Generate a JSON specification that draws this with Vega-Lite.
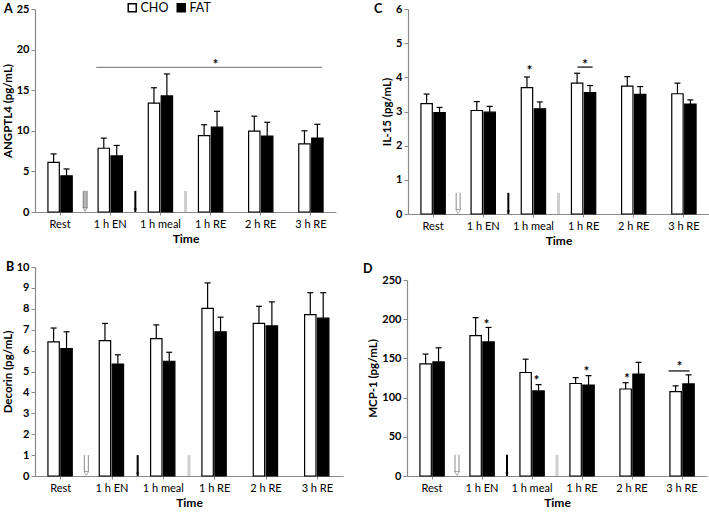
{
  "$schema": "https://vega.github.io/schema/vega-lite/v6.json",
  "padding": {"left": 2, "top": 1, "right": 0, "bottom": 0},
  "datasets": {
    "bars": [
      {"panel": "A", "time": "Rest", "group": "CHO", "mean": 6.1, "upper": 7.15},
      {"panel": "A", "time": "Rest", "group": "FAT", "mean": 4.45, "upper": 5.3},
      {"panel": "A", "time": "1 h EN", "group": "CHO", "mean": 7.85, "upper": 9.1},
      {"panel": "A", "time": "1 h EN", "group": "FAT", "mean": 6.9, "upper": 8.2},
      {"panel": "A", "time": "1 h meal", "group": "CHO", "mean": 13.4, "upper": 15.3},
      {"panel": "A", "time": "1 h meal", "group": "FAT", "mean": 14.3, "upper": 17.0},
      {"panel": "A", "time": "1 h RE", "group": "CHO", "mean": 9.4, "upper": 10.75},
      {"panel": "A", "time": "1 h RE", "group": "FAT", "mean": 10.45, "upper": 12.4},
      {"panel": "A", "time": "2 h RE", "group": "CHO", "mean": 9.95, "upper": 11.8},
      {"panel": "A", "time": "2 h RE", "group": "FAT", "mean": 9.35, "upper": 11.05},
      {"panel": "A", "time": "3 h RE", "group": "CHO", "mean": 8.4, "upper": 10.0},
      {"panel": "A", "time": "3 h RE", "group": "FAT", "mean": 9.1, "upper": 10.8},
      {"panel": "B", "time": "Rest", "group": "CHO", "mean": 6.42, "upper": 7.08},
      {"panel": "B", "time": "Rest", "group": "FAT", "mean": 6.1, "upper": 6.9},
      {"panel": "B", "time": "1 h EN", "group": "CHO", "mean": 6.48, "upper": 7.3},
      {"panel": "B", "time": "1 h EN", "group": "FAT", "mean": 5.36, "upper": 5.8},
      {"panel": "B", "time": "1 h meal", "group": "CHO", "mean": 6.57, "upper": 7.23},
      {"panel": "B", "time": "1 h meal", "group": "FAT", "mean": 5.49, "upper": 5.92},
      {"panel": "B", "time": "1 h RE", "group": "CHO", "mean": 8.02, "upper": 9.24},
      {"panel": "B", "time": "1 h RE", "group": "FAT", "mean": 6.9, "upper": 7.6},
      {"panel": "B", "time": "2 h RE", "group": "CHO", "mean": 7.3, "upper": 8.12},
      {"panel": "B", "time": "2 h RE", "group": "FAT", "mean": 7.18, "upper": 8.33},
      {"panel": "B", "time": "3 h RE", "group": "CHO", "mean": 7.72, "upper": 8.77},
      {"panel": "B", "time": "3 h RE", "group": "FAT", "mean": 7.55, "upper": 8.77},
      {"panel": "C", "time": "Rest", "group": "CHO", "mean": 3.23, "upper": 3.51},
      {"panel": "C", "time": "Rest", "group": "FAT", "mean": 2.97, "upper": 3.12},
      {"panel": "C", "time": "1 h EN", "group": "CHO", "mean": 3.03, "upper": 3.29},
      {"panel": "C", "time": "1 h EN", "group": "FAT", "mean": 2.98, "upper": 3.15},
      {"panel": "C", "time": "1 h meal", "group": "CHO", "mean": 3.7, "upper": 4.01},
      {"panel": "C", "time": "1 h meal", "group": "FAT", "mean": 3.08, "upper": 3.28},
      {"panel": "C", "time": "1 h RE", "group": "CHO", "mean": 3.83, "upper": 4.12},
      {"panel": "C", "time": "1 h RE", "group": "FAT", "mean": 3.55, "upper": 3.76},
      {"panel": "C", "time": "2 h RE", "group": "CHO", "mean": 3.74, "upper": 4.02},
      {"panel": "C", "time": "2 h RE", "group": "FAT", "mean": 3.5, "upper": 3.73},
      {"panel": "C", "time": "3 h RE", "group": "CHO", "mean": 3.52, "upper": 3.83},
      {"panel": "C", "time": "3 h RE", "group": "FAT", "mean": 3.22, "upper": 3.34},
      {"panel": "D", "time": "Rest", "group": "CHO", "mean": 143, "upper": 155.5},
      {"panel": "D", "time": "Rest", "group": "FAT", "mean": 145.5, "upper": 163.5},
      {"panel": "D", "time": "1 h EN", "group": "CHO", "mean": 179, "upper": 202},
      {"panel": "D", "time": "1 h EN", "group": "FAT", "mean": 171, "upper": 189.5},
      {"panel": "D", "time": "1 h meal", "group": "CHO", "mean": 132, "upper": 149},
      {"panel": "D", "time": "1 h meal", "group": "FAT", "mean": 108.5, "upper": 116.5},
      {"panel": "D", "time": "1 h RE", "group": "CHO", "mean": 118, "upper": 125.5},
      {"panel": "D", "time": "1 h RE", "group": "FAT", "mean": 116, "upper": 128},
      {"panel": "D", "time": "2 h RE", "group": "CHO", "mean": 111, "upper": 119},
      {"panel": "D", "time": "2 h RE", "group": "FAT", "mean": 130, "upper": 145},
      {"panel": "D", "time": "3 h RE", "group": "CHO", "mean": 107.5, "upper": 115},
      {"panel": "D", "time": "3 h RE", "group": "FAT", "mean": 117.5, "upper": 129}
    ],
    "arrows": [
      {"panel": "A", "at": "1 h EN", "kind": "hollow", "top": 2.6},
      {"panel": "A", "at": "1 h meal", "kind": "black", "top": 2.6},
      {"panel": "A", "at": "1 h RE", "kind": "gray", "top": 2.6},
      {"panel": "B", "at": "1 h EN", "kind": "hollow", "top": 1.0},
      {"panel": "B", "at": "1 h meal", "kind": "black", "top": 1.0},
      {"panel": "B", "at": "1 h RE", "kind": "gray", "top": 1.0},
      {"panel": "C", "at": "1 h EN", "kind": "hollow", "top": 0.62},
      {"panel": "C", "at": "1 h meal", "kind": "black", "top": 0.62},
      {"panel": "C", "at": "1 h RE", "kind": "gray", "top": 0.62},
      {"panel": "D", "at": "1 h EN", "kind": "hollow", "top": 27},
      {"panel": "D", "at": "1 h meal", "kind": "black", "top": 27},
      {"panel": "D", "at": "1 h RE", "kind": "gray", "top": 27}
    ],
    "stars": [
      {"panel": "A", "time": "1 h RE", "group": "FAT", "y": 18.3},
      {"panel": "C", "time": "1 h meal", "group": "CHO", "y": 4.25},
      {"panel": "C", "time": "1 h RE", "group": "both", "y": 4.43},
      {"panel": "D", "time": "1 h EN", "group": "FAT", "y": 195},
      {"panel": "D", "time": "1 h meal", "group": "FAT", "y": 124},
      {"panel": "D", "time": "1 h RE", "group": "FAT", "y": 135},
      {"panel": "D", "time": "2 h RE", "group": "CHO", "y": 126},
      {"panel": "D", "time": "3 h RE", "group": "both", "y": 141}
    ],
    "lines": [
      {"panel": "A", "from": "1 h EN", "to": "3 h RE", "y": 17.8},
      {"panel": "C", "from": "1 h RE", "to": "1 h RE", "y": 4.3},
      {"panel": "D", "from": "3 h RE", "to": "3 h RE", "y": 134}
    ],
    "letters": [
      {"panel": "A", "letter": "A", "start": "Rest", "top": 25},
      {"panel": "B", "letter": "B", "start": "Rest", "top": 10},
      {"panel": "C", "letter": "C", "start": "Rest", "top": 6},
      {"panel": "D", "letter": "D", "start": "Rest", "top": 250}
    ]
  },
  "config": {
    "font": "Lato",
    "view": {"stroke": null},
    "axis": {"grid": false, "domainColor": "#8a8a8a", "tickColor": "#8a8a8a", "labelColor": "black", "titleColor": "black", "domainWidth": 1.2, "labelOverlap": false},
    "axisY": {"tickSize": 4, "labelFontWeight": "bold", "labelFontSize": 11, "labelPadding": 2, "titleFontSize": 11.5, "titleFontWeight": "bold", "titlePadding": 3, "labelOverlap": false, "format": "d"},
    "axisX": {"tickSize": 3, "labelAngle": 0, "labelFontSize": 11, "labelPadding": 3, "titleFontSize": 12, "titleFontWeight": "bold", "titlePadding": 4},
    "point": {"filled": true},
    "legend": {"orient": "none", "legendX": 91, "legendY": -8, "direction": "horizontal", "title": null, "symbolType": "square", "symbolSize": 64, "symbolStrokeColor": "black", "symbolStrokeWidth": 1.5, "labelFontSize": 12.5, "labelOffset": 2, "columnPadding": 5}
  },
  "resolve": {"scale": {"fill": "shared"}, "legend": {"fill": "shared"}},
  "spacing": 15,
  "vconcat": [
    {
      "spacing": 38,
      "hconcat": [
        {
          "width": 301, "height": 203,
          "layer": [
            {"data": {"name": "bars"}, "transform": [{"filter": "datum.panel === 'A'"}],
             "mark": {"type": "bar", "stroke": "black", "strokeWidth": 1.2},
             "encoding": {
               "x": {"field": "time", "type": "nominal", "sort": null, "scale": {"domain": ["Rest", "1 h EN", "1 h meal", "1 h RE", "2 h RE", "3 h RE"], "paddingInner": 0, "paddingOuter": 0}, "axis": {"title": "Time"}},
               "xOffset": {"field": "group", "scale": {"domain": ["CHO", "FAT"], "paddingInner": 0.12, "paddingOuter": 2.2}},
               "y": {"field": "mean", "type": "quantitative", "scale": {"domain": [0, 25], "nice": false}, "axis": {"title": "ANGPTL4 (pg/mL)", "values": [0, 5, 10, 15, 20, 25], "tickCount": 20, "format": "d", "labelOverlap": false}},
               "fill": {"field": "group", "type": "nominal", "scale": {"domain": ["CHO", "FAT"], "range": ["white", "black"]}}
             }},
            {"data": {"name": "bars"}, "transform": [{"filter": "datum.panel === 'A'"}],
             "mark": {"type": "rule", "strokeWidth": 1.2, "color": "black"},
             "encoding": {"x": {"field": "time", "type": "nominal"}, "xOffset": {"field": "group"}, "y": {"field": "mean", "type": "quantitative"}, "y2": {"field": "upper"}}},
            {"data": {"name": "bars"}, "transform": [{"filter": "datum.panel === 'A'"}],
             "mark": {"type": "tick", "thickness": 1.2, "size": 6, "color": "black", "opacity": 1},
             "encoding": {"x": {"field": "time", "type": "nominal"}, "xOffset": {"field": "group"}, "y": {"field": "upper", "type": "quantitative"}}},
            {"data": {"name": "arrows"}, "transform": [{"filter": "datum.panel === 'A' && datum.kind === 'hollow'"}],
             "mark": {"type": "rule", "strokeWidth": 5, "color": "#8c8c8c"},
             "encoding": {"x": {"field": "at", "type": "nominal", "bandPosition": 0}, "y": {"field": "top", "type": "quantitative"}, "y2": {"datum": 0.5}}},
            {"data": {"name": "arrows"}, "transform": [{"filter": "datum.panel === 'A' && datum.kind === 'hollow'"}],
             "mark": {"type": "rule", "strokeWidth": 3, "color": "#b4b4b4"},
             "encoding": {"x": {"field": "at", "type": "nominal", "bandPosition": 0}, "y": {"field": "top", "type": "quantitative"}, "y2": {"datum": 0.5}}},
            {"data": {"name": "arrows"}, "transform": [{"filter": "datum.panel === 'A' && datum.kind === 'hollow'"}],
             "mark": {"type": "point", "shape": "triangle-down", "size": 22, "filled": true, "color": "#b4b4b4", "stroke": "#8c8c8c", "strokeWidth": 1, "yOffset": -2.5},
             "encoding": {"x": {"field": "at", "type": "nominal", "bandPosition": 0}, "y": {"datum": 0}}},
            {"data": {"name": "arrows"}, "transform": [{"filter": "datum.panel === 'A' && datum.kind === 'black'"}],
             "mark": {"type": "rule", "strokeWidth": 2, "color": "black"},
             "encoding": {"x": {"field": "at", "type": "nominal", "bandPosition": 0}, "y": {"field": "top", "type": "quantitative"}, "y2": {"datum": 0}}},
            {"data": {"name": "arrows"}, "transform": [{"filter": "datum.panel === 'A' && datum.kind === 'black'"}],
             "mark": {"type": "point", "shape": "triangle-down", "size": 14, "filled": true, "color": "black", "yOffset": -2},
             "encoding": {"x": {"field": "at", "type": "nominal", "bandPosition": 0}, "y": {"datum": 0}}},
            {"data": {"name": "arrows"}, "transform": [{"filter": "datum.panel === 'A' && datum.kind === 'gray'"}],
             "mark": {"type": "rule", "strokeWidth": 3, "color": "#cfcfcf"},
             "encoding": {"x": {"field": "at", "type": "nominal", "bandPosition": 0}, "y": {"field": "top", "type": "quantitative"}, "y2": {"datum": 0}}},
            {"data": {"name": "lines"}, "transform": [{"filter": "datum.panel === 'A'"}],
             "mark": {"type": "rule", "strokeWidth": 1.2, "color": "#8a8a8a"},
             "encoding": {"x": {"field": "from", "type": "nominal", "bandPosition": 0.22}, "x2": {"field": "to", "bandPosition": 0.72}, "y": {"field": "y", "type": "quantitative"}}},
            {"data": {"name": "stars"}, "transform": [{"filter": "datum.panel === 'A' && datum.group === 'FAT'"}],
             "mark": {"type": "text", "text": "*", "fontSize": 13, "fontWeight": "bold", "baseline": "middle", "dy": 2},
             "encoding": {"x": {"field": "time", "type": "nominal", "bandPosition": 0.6}, "y": {"field": "y", "type": "quantitative"}}},
            {"data": {"name": "letters"}, "transform": [{"filter": "datum.panel === 'A'"}],
             "mark": {"type": "text", "fontSize": 12.5, "fontWeight": "bold", "align": "left", "baseline": "middle", "dx": -31},
             "encoding": {"text": {"field": "letter"}, "x": {"field": "start", "type": "nominal", "bandPosition": 0}, "y": {"field": "top", "type": "quantitative"}}}
          ]
        },
        {
          "width": 301, "height": 205,
          "layer": [
            {"data": {"name": "bars"}, "transform": [{"filter": "datum.panel === 'C'"}],
             "mark": {"type": "bar", "stroke": "black", "strokeWidth": 1.2},
             "encoding": {
               "x": {"field": "time", "type": "nominal", "sort": null, "scale": {"domain": ["Rest", "1 h EN", "1 h meal", "1 h RE", "2 h RE", "3 h RE"], "paddingInner": 0, "paddingOuter": 0}, "axis": {"title": "Time"}},
               "xOffset": {"field": "group", "scale": {"domain": ["CHO", "FAT"], "paddingInner": 0.12, "paddingOuter": 2.2}},
               "y": {"field": "mean", "type": "quantitative", "scale": {"domain": [0, 6], "nice": false}, "axis": {"title": "IL-15 (pg/mL)", "values": [0, 1, 2, 3, 4, 5, 6], "tickCount": 20, "format": "d", "labelOverlap": false}},
               "fill": {"field": "group", "type": "nominal", "scale": {"domain": ["CHO", "FAT"], "range": ["white", "black"]}}
             }},
            {"data": {"name": "bars"}, "transform": [{"filter": "datum.panel === 'C'"}],
             "mark": {"type": "rule", "strokeWidth": 1.2, "color": "black"},
             "encoding": {"x": {"field": "time", "type": "nominal"}, "xOffset": {"field": "group"}, "y": {"field": "mean", "type": "quantitative"}, "y2": {"field": "upper"}}},
            {"data": {"name": "bars"}, "transform": [{"filter": "datum.panel === 'C'"}],
             "mark": {"type": "tick", "thickness": 1.2, "size": 6, "color": "black", "opacity": 1},
             "encoding": {"x": {"field": "time", "type": "nominal"}, "xOffset": {"field": "group"}, "y": {"field": "upper", "type": "quantitative"}}},
            {"data": {"name": "arrows"}, "transform": [{"filter": "datum.panel === 'C' && datum.kind === 'hollow'"}],
             "mark": {"type": "rule", "strokeWidth": 5, "color": "#8c8c8c"},
             "encoding": {"x": {"field": "at", "type": "nominal", "bandPosition": 0}, "y": {"field": "top", "type": "quantitative"}, "y2": {"datum": 0.12}}},
            {"data": {"name": "arrows"}, "transform": [{"filter": "datum.panel === 'C' && datum.kind === 'hollow'"}],
             "mark": {"type": "rule", "strokeWidth": 3, "color": "white"},
             "encoding": {"x": {"field": "at", "type": "nominal", "bandPosition": 0}, "y": {"field": "top", "type": "quantitative"}, "y2": {"datum": 0.12}}},
            {"data": {"name": "arrows"}, "transform": [{"filter": "datum.panel === 'C' && datum.kind === 'hollow'"}],
             "mark": {"type": "point", "shape": "triangle-down", "size": 22, "filled": true, "color": "white", "stroke": "#8c8c8c", "strokeWidth": 1, "yOffset": -2.5},
             "encoding": {"x": {"field": "at", "type": "nominal", "bandPosition": 0}, "y": {"datum": 0}}},
            {"data": {"name": "arrows"}, "transform": [{"filter": "datum.panel === 'C' && datum.kind === 'black'"}],
             "mark": {"type": "rule", "strokeWidth": 2, "color": "black"},
             "encoding": {"x": {"field": "at", "type": "nominal", "bandPosition": 0}, "y": {"field": "top", "type": "quantitative"}, "y2": {"datum": 0}}},
            {"data": {"name": "arrows"}, "transform": [{"filter": "datum.panel === 'C' && datum.kind === 'black'"}],
             "mark": {"type": "point", "shape": "triangle-down", "size": 14, "filled": true, "color": "black", "yOffset": -2},
             "encoding": {"x": {"field": "at", "type": "nominal", "bandPosition": 0}, "y": {"datum": 0}}},
            {"data": {"name": "arrows"}, "transform": [{"filter": "datum.panel === 'C' && datum.kind === 'gray'"}],
             "mark": {"type": "rule", "strokeWidth": 3, "color": "#cfcfcf"},
             "encoding": {"x": {"field": "at", "type": "nominal", "bandPosition": 0}, "y": {"field": "top", "type": "quantitative"}, "y2": {"datum": 0}}},
            {"data": {"name": "lines"}, "transform": [{"filter": "datum.panel === 'C'"}],
             "mark": {"type": "rule", "strokeWidth": 1.2, "color": "black"},
             "encoding": {"x": {"field": "from", "type": "nominal", "bandPosition": 0.38}, "x2": {"field": "to", "bandPosition": 0.68}, "y": {"field": "y", "type": "quantitative"}}},
            {"data": {"name": "stars"}, "transform": [{"filter": "datum.panel === 'C' && datum.group === 'CHO'"}],
             "mark": {"type": "text", "text": "*", "fontSize": 13, "fontWeight": "bold", "baseline": "middle", "dy": 2},
             "encoding": {"x": {"field": "time", "type": "nominal", "bandPosition": 0.42}, "y": {"field": "y", "type": "quantitative"}}},
            {"data": {"name": "stars"}, "transform": [{"filter": "datum.panel === 'C' && datum.group === 'both'"}],
             "mark": {"type": "text", "text": "*", "fontSize": 13, "fontWeight": "bold", "baseline": "middle", "dy": 2},
             "encoding": {"x": {"field": "time", "type": "nominal", "bandPosition": 0.53}, "y": {"field": "y", "type": "quantitative"}}},
            {"data": {"name": "letters"}, "transform": [{"filter": "datum.panel === 'C'"}],
             "mark": {"type": "text", "fontSize": 12.5, "fontWeight": "bold", "align": "left", "baseline": "middle", "dx": -34},
             "encoding": {"text": {"field": "letter"}, "x": {"field": "start", "type": "nominal", "bandPosition": 0}, "y": {"field": "top", "type": "quantitative"}}}
          ]
        }
      ]
    },
    {
      "spacing": 20,
      "hconcat": [
        {
          "width": 308, "height": 209,
          "layer": [
            {"data": {"name": "bars"}, "transform": [{"filter": "datum.panel === 'B'"}],
             "mark": {"type": "bar", "stroke": "black", "strokeWidth": 1.2},
             "encoding": {
               "x": {"field": "time", "type": "nominal", "sort": null, "scale": {"domain": ["Rest", "1 h EN", "1 h meal", "1 h RE", "2 h RE", "3 h RE"], "paddingInner": 0, "paddingOuter": 0}, "axis": {"title": "Time"}},
               "xOffset": {"field": "group", "scale": {"domain": ["CHO", "FAT"], "paddingInner": 0.12, "paddingOuter": 2.2}},
               "y": {"field": "mean", "type": "quantitative", "scale": {"domain": [0, 10], "nice": false}, "axis": {"title": "Decorin (pg/mL)", "values": [0, 1, 2, 3, 4, 5, 6, 7, 8, 9, 10], "tickCount": 20, "format": "d", "labelOverlap": false}},
               "fill": {"field": "group", "type": "nominal", "scale": {"domain": ["CHO", "FAT"], "range": ["white", "black"]}}
             }},
            {"data": {"name": "bars"}, "transform": [{"filter": "datum.panel === 'B'"}],
             "mark": {"type": "rule", "strokeWidth": 1.2, "color": "black"},
             "encoding": {"x": {"field": "time", "type": "nominal"}, "xOffset": {"field": "group"}, "y": {"field": "mean", "type": "quantitative"}, "y2": {"field": "upper"}}},
            {"data": {"name": "bars"}, "transform": [{"filter": "datum.panel === 'B'"}],
             "mark": {"type": "tick", "thickness": 1.2, "size": 6, "color": "black", "opacity": 1},
             "encoding": {"x": {"field": "time", "type": "nominal"}, "xOffset": {"field": "group"}, "y": {"field": "upper", "type": "quantitative"}}},
            {"data": {"name": "arrows"}, "transform": [{"filter": "datum.panel === 'B' && datum.kind === 'hollow'"}],
             "mark": {"type": "rule", "strokeWidth": 5, "color": "#8c8c8c"},
             "encoding": {"x": {"field": "at", "type": "nominal", "bandPosition": 0}, "y": {"field": "top", "type": "quantitative"}, "y2": {"datum": 0.2}}},
            {"data": {"name": "arrows"}, "transform": [{"filter": "datum.panel === 'B' && datum.kind === 'hollow'"}],
             "mark": {"type": "rule", "strokeWidth": 3, "color": "white"},
             "encoding": {"x": {"field": "at", "type": "nominal", "bandPosition": 0}, "y": {"field": "top", "type": "quantitative"}, "y2": {"datum": 0.2}}},
            {"data": {"name": "arrows"}, "transform": [{"filter": "datum.panel === 'B' && datum.kind === 'hollow'"}],
             "mark": {"type": "point", "shape": "triangle-down", "size": 22, "filled": true, "color": "white", "stroke": "#8c8c8c", "strokeWidth": 1, "yOffset": -2.5},
             "encoding": {"x": {"field": "at", "type": "nominal", "bandPosition": 0}, "y": {"datum": 0}}},
            {"data": {"name": "arrows"}, "transform": [{"filter": "datum.panel === 'B' && datum.kind === 'black'"}],
             "mark": {"type": "rule", "strokeWidth": 2, "color": "black"},
             "encoding": {"x": {"field": "at", "type": "nominal", "bandPosition": 0}, "y": {"field": "top", "type": "quantitative"}, "y2": {"datum": 0}}},
            {"data": {"name": "arrows"}, "transform": [{"filter": "datum.panel === 'B' && datum.kind === 'black'"}],
             "mark": {"type": "point", "shape": "triangle-down", "size": 14, "filled": true, "color": "black", "yOffset": -2},
             "encoding": {"x": {"field": "at", "type": "nominal", "bandPosition": 0}, "y": {"datum": 0}}},
            {"data": {"name": "arrows"}, "transform": [{"filter": "datum.panel === 'B' && datum.kind === 'gray'"}],
             "mark": {"type": "rule", "strokeWidth": 3, "color": "#cfcfcf"},
             "encoding": {"x": {"field": "at", "type": "nominal", "bandPosition": 0}, "y": {"field": "top", "type": "quantitative"}, "y2": {"datum": 0}}},
            {"data": {"name": "letters"}, "transform": [{"filter": "datum.panel === 'B'"}],
             "mark": {"type": "text", "fontSize": 12.5, "fontWeight": "bold", "align": "left", "baseline": "middle", "dx": -29},
             "encoding": {"text": {"field": "letter"}, "x": {"field": "start", "type": "nominal", "bandPosition": 0}, "y": {"field": "top", "type": "quantitative"}}}
          ]
        },
        {
          "width": 300, "height": 209,
          "layer": [
            {"data": {"name": "bars"}, "transform": [{"filter": "datum.panel === 'D'"}],
             "mark": {"type": "bar", "stroke": "black", "strokeWidth": 1.2},
             "encoding": {
               "x": {"field": "time", "type": "nominal", "sort": null, "scale": {"domain": ["Rest", "1 h EN", "1 h meal", "1 h RE", "2 h RE", "3 h RE"], "paddingInner": 0, "paddingOuter": 0}, "axis": {"title": "Time"}},
               "xOffset": {"field": "group", "scale": {"domain": ["CHO", "FAT"], "paddingInner": 0.12, "paddingOuter": 2.2}},
               "y": {"field": "mean", "type": "quantitative", "scale": {"domain": [0, 250], "nice": false, "range": [209, 13]}, "axis": {"title": "MCP-1 (pg/mL)", "values": [0, 50, 100, 150, 200, 250], "tickCount": 20, "format": "d", "labelOverlap": false}},
               "fill": {"field": "group", "type": "nominal", "scale": {"domain": ["CHO", "FAT"], "range": ["white", "black"]}}
             }},
            {"data": {"name": "bars"}, "transform": [{"filter": "datum.panel === 'D'"}],
             "mark": {"type": "rule", "strokeWidth": 1.2, "color": "black"},
             "encoding": {"x": {"field": "time", "type": "nominal"}, "xOffset": {"field": "group"}, "y": {"field": "mean", "type": "quantitative"}, "y2": {"field": "upper"}}},
            {"data": {"name": "bars"}, "transform": [{"filter": "datum.panel === 'D'"}],
             "mark": {"type": "tick", "thickness": 1.2, "size": 6, "color": "black", "opacity": 1},
             "encoding": {"x": {"field": "time", "type": "nominal"}, "xOffset": {"field": "group"}, "y": {"field": "upper", "type": "quantitative"}}},
            {"data": {"name": "arrows"}, "transform": [{"filter": "datum.panel === 'D' && datum.kind === 'hollow'"}],
             "mark": {"type": "rule", "strokeWidth": 5, "color": "#8c8c8c"},
             "encoding": {"x": {"field": "at", "type": "nominal", "bandPosition": 0}, "y": {"field": "top", "type": "quantitative"}, "y2": {"datum": 5}}},
            {"data": {"name": "arrows"}, "transform": [{"filter": "datum.panel === 'D' && datum.kind === 'hollow'"}],
             "mark": {"type": "rule", "strokeWidth": 3, "color": "white"},
             "encoding": {"x": {"field": "at", "type": "nominal", "bandPosition": 0}, "y": {"field": "top", "type": "quantitative"}, "y2": {"datum": 5}}},
            {"data": {"name": "arrows"}, "transform": [{"filter": "datum.panel === 'D' && datum.kind === 'hollow'"}],
             "mark": {"type": "point", "shape": "triangle-down", "size": 22, "filled": true, "color": "white", "stroke": "#8c8c8c", "strokeWidth": 1, "yOffset": -2.5},
             "encoding": {"x": {"field": "at", "type": "nominal", "bandPosition": 0}, "y": {"datum": 0}}},
            {"data": {"name": "arrows"}, "transform": [{"filter": "datum.panel === 'D' && datum.kind === 'black'"}],
             "mark": {"type": "rule", "strokeWidth": 2, "color": "black"},
             "encoding": {"x": {"field": "at", "type": "nominal", "bandPosition": 0}, "y": {"field": "top", "type": "quantitative"}, "y2": {"datum": 0}}},
            {"data": {"name": "arrows"}, "transform": [{"filter": "datum.panel === 'D' && datum.kind === 'black'"}],
             "mark": {"type": "point", "shape": "triangle-down", "size": 14, "filled": true, "color": "black", "yOffset": -2},
             "encoding": {"x": {"field": "at", "type": "nominal", "bandPosition": 0}, "y": {"datum": 0}}},
            {"data": {"name": "arrows"}, "transform": [{"filter": "datum.panel === 'D' && datum.kind === 'gray'"}],
             "mark": {"type": "rule", "strokeWidth": 3, "color": "#cfcfcf"},
             "encoding": {"x": {"field": "at", "type": "nominal", "bandPosition": 0}, "y": {"field": "top", "type": "quantitative"}, "y2": {"datum": 0}}},
            {"data": {"name": "lines"}, "transform": [{"filter": "datum.panel === 'D'"}],
             "mark": {"type": "rule", "strokeWidth": 1.2, "color": "black"},
             "encoding": {"x": {"field": "from", "type": "nominal", "bandPosition": 0.23}, "x2": {"field": "to", "bandPosition": 0.65}, "y": {"field": "y", "type": "quantitative"}}},
            {"data": {"name": "stars"}, "transform": [{"filter": "datum.panel === 'D' && datum.group === 'FAT'"}],
             "mark": {"type": "text", "text": "*", "fontSize": 13, "fontWeight": "bold", "baseline": "middle", "dy": 2},
             "encoding": {"x": {"field": "time", "type": "nominal", "bandPosition": 0.59}, "y": {"field": "y", "type": "quantitative"}}},
            {"data": {"name": "stars"}, "transform": [{"filter": "datum.panel === 'D' && datum.group === 'CHO'"}],
             "mark": {"type": "text", "text": "*", "fontSize": 13, "fontWeight": "bold", "baseline": "middle", "dy": 2},
             "encoding": {"x": {"field": "time", "type": "nominal", "bandPosition": 0.4}, "y": {"field": "y", "type": "quantitative"}}},
            {"data": {"name": "stars"}, "transform": [{"filter": "datum.panel === 'D' && datum.group === 'both'"}],
             "mark": {"type": "text", "text": "*", "fontSize": 13, "fontWeight": "bold", "baseline": "middle", "dy": 2},
             "encoding": {"x": {"field": "time", "type": "nominal", "bandPosition": 0.45}, "y": {"field": "y", "type": "quantitative"}}},
            {"data": {"name": "letters"}, "transform": [{"filter": "datum.panel === 'D'"}],
             "mark": {"type": "text", "fontSize": 12.5, "fontWeight": "bold", "align": "left", "baseline": "middle", "dx": -44, "dy": -11},
             "encoding": {"text": {"field": "letter"}, "x": {"field": "start", "type": "nominal", "bandPosition": 0}, "y": {"field": "top", "type": "quantitative"}}}
          ]
        }
      ]
    }
  ]
}
